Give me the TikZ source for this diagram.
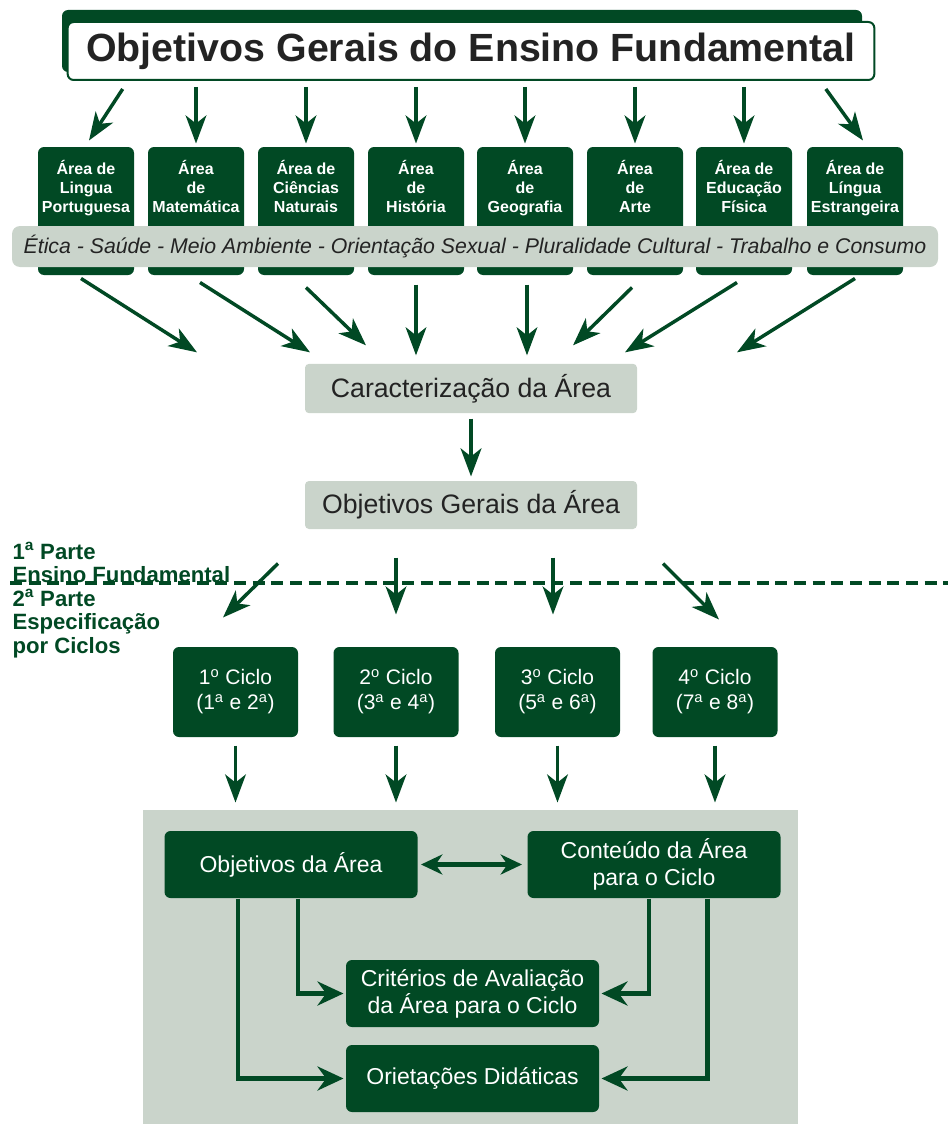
\documentclass[tikz,border=0pt]{standalone}
\usepackage{fontspec}
\setmainfont{Liberation Sans}
\usetikzlibrary{arrows.meta,calc}

\definecolor{pcnGreen}{RGB}{1,73,36}
\definecolor{pcnGrey}{RGB}{202,212,203}
\definecolor{pcnText}{RGB}{35,35,35}

\tikzset{every picture/.style={line width=0.75pt}}
\tikzset{
  titlebox/.style={draw=pcnGreen, line width=1.5pt, fill=white, rounded corners=4.5pt, minimum width=605pt, minimum height=43.5pt, inner sep=0pt, text=pcnText, font=\fontsize{29.5}{35}\selectfont\bfseries},
  areabox/.style={fill=pcnGreen, rounded corners=4.5pt, minimum width=72pt, minimum height=96pt, inner sep=0pt},
  areatext/.style={anchor=north, text=white, align=center, inner sep=0pt, font=\fontsize{12}{14.25}\selectfont\bfseries},
  temaband/.style={fill=pcnGrey, rounded corners=6pt, minimum width=694.5pt, minimum height=30.75pt, inner sep=0pt, text=pcnText, font=\fontsize{15.95}{18}\selectfont\itshape},
  greybox/.style={fill=pcnGrey, rounded corners=3pt, minimum width=249pt, minimum height=37pt, inner sep=0pt, text=pcnText, font=\fontsize{20}{24}\selectfont},
  ciclobox/.style={fill=pcnGreen, rounded corners=4.5pt, minimum width=93.75pt, minimum height=67.5pt, inner sep=0pt, text=white, align=center, font=\fontsize{15.75}{18.75}\selectfont},
  partebox/.style={fill=pcnGreen, rounded corners=4.5pt, minimum width=189.75pt, minimum height=50.25pt, inner sep=0pt, text=white, align=center, font=\fontsize{17.25}{20.25}\selectfont},
  partlabel/.style={text=pcnGreen, align=left, inner sep=0pt, font=\fontsize{16.6}{17.6}\selectfont\bfseries},
  arr/.style={draw=pcnGreen, line width=2.6pt, -{Stealth[length=21pt,width=15.5pt,inset=6pt]}},
  flow/.style={draw=pcnGreen, line width=3.4pt, -{Stealth[length=19.5pt,width=18pt,inset=6.5pt]}},
  flowboth/.style={draw=pcnGreen, line width=3.4pt, {Stealth[length=16pt,width=15pt,inset=5pt]}-{Stealth[length=16pt,width=15pt,inset=5pt]}}
}

\begin{document}
\begin{tikzpicture}[x=0.75pt,y=0.75pt,yscale=-1,xscale=1]
\useasboundingbox (0,0) rectangle (948,1124);

%Shape: Rectangle [title shadow]
\fill [pcnGreen, rounded corners=4.5pt] (62,10) rectangle (862,72);
% Text Node
\node [titlebox] (title) at (471,51) {Objetivos Gerais do Ensino Fundamental};

%Shape: Area boxes
\foreach \n/\x/\t in {1/86/{Área de\\Lingua\\Portuguesa}, 2/196/{Área\\de\\Matemática}, 3/306/{Área de\\Ciências\\Naturais}, 4/416/{Área\\de\\História}, 5/525/{Área\\de\\Geografia}, 6/635/{Área\\de\\Arte}, 7/744/{Área de\\Educação\\Física}, 8/855/{Área de\\Língua\\Estrangeira}}{
  \node [areabox] (a\n) at (\x,211) {};
  \node [areatext] (t\n) at (\x,160) {\t};
}

%Shape: Rounded band
\node [temaband] (temas) at (475,246.5) {Ética - Saúde - Meio Ambiente - Orientação Sexual - Pluralidade Cultural - Trabalho e Consumo};

%Arrows: title to areas
\draw [arr] ($(title.south west)+(56,8)$) -- ($(a1.north)+(3,-6)$);
\foreach \n in {2,...,7}
  \draw [arr, shorten <=4.5pt, shorten >=2.25pt] (title.south -| a\n.north) -- (a\n.north);
\draw [arr] ($(title.south east)+(-49.5,8)$) -- ($(a8.north)+(8,-6)$);

% Text Node
\node [greybox] (car) at (471,388.5) {Caracterização da Área};
\node [greybox, minimum height=36pt] (oga) at (471,505) {Objetivos Gerais da Área};

%Arrows: areas to caracterizacao
\foreach \n/\sx/\sy/\ex/\ey in {1/-5/3/-274/-11, 2/4/7/-161/-11, 3/0/12/-105/-18, 4/0/9/-55/-8, 5/2/9/56/-8, 6/-3/12/102/-18, 7/-7/7/154/-11, 8/0/3/266/-11}
  \draw [arr] ($(a\n.south)+(\sx,\sy)$) -- ($(car.north)+(\ex,\ey)$);
\draw [arr, line width=3.4pt, shorten <=3.75pt, shorten >=3pt] (car) -- (oga);

%Dashed line
\draw [pcnGreen, line width=2.6pt, dash pattern={on 9pt off 5pt}] (10,583) -- (948,583);

% Text Node
\node [partlabel, anchor=north west] (partes) at (12,542) {1\textsuperscript{a} Parte\\Ensino Fundamental\\2\textsuperscript{a} Parte\\Especificação\\por Ciclos};

%Shape: Ciclo boxes
\node [ciclobox] (c1) at (235.5,692) {1\textsuperscript{o} Ciclo\\(1\textsuperscript{a} e 2\textsuperscript{a})};
\node [ciclobox] (c2) at (396,692) {2\textsuperscript{o} Ciclo\\(3\textsuperscript{a} e 4\textsuperscript{a})};
\node [ciclobox] (c3) at (557.5,692) {3\textsuperscript{o} Ciclo\\(5\textsuperscript{a} e 6\textsuperscript{a})};
\node [ciclobox] (c4) at (715,692) {4\textsuperscript{o} Ciclo\\(7\textsuperscript{a} e 8\textsuperscript{a})};

%Arrows: objetivos gerais to ciclos
\draw [arr] ($(oga.south)+(-193,34)$) -- ($(c1.north)+(-12.5,-29)$);
\draw [arr] ($(oga.south)+(-75,28)$) -- ($(c2.north)+(0,-32)$);
\draw [arr] ($(oga.south)+(82,28)$) -- ($(c3.north)+(-4.5,-32)$);
\draw [arr] ($(oga.south)+(192,34)$) -- ($(c4.north)+(4,-27)$);

%Shape: Panel
\fill [pcnGrey] (143,810) rectangle (798,1124);

\foreach \n in {1,...,4}
  \draw [arr, shorten <=6pt] (c\n.south) -- ($(c\n.south)+(0,65)$);

%Shape: Panel boxes
\node [partebox] (obja) at (291,864.5) {Objetivos da Área};
\node [partebox] (cont) at (654,864.5) {Conteúdo da Área\\para o Ciclo};
\node [partebox] (crit) at (472.5,993.5) {Critérios de Avaliação\\da Área para o Ciclo};
\node [partebox] (orie) at (472.5,1078.5) {Orietações Didáticas};

%Connectors
\draw [flowboth] ($(obja.east)+(3,0)$) -- ($(cont.west)+(-5,0)$);
\draw [flow] ($(obja.south)+(7,0)$) |- ($(crit.west)+(-2,0)$);
\draw [flow] ($(obja.south)+(-53,0)$) |- ($(orie.west)+(-2,0)$);
\draw [flow] ($(cont.south)+(-5,0)$) |- ($(crit.east)+(2,0)$);
\draw [flow] ($(cont.south)+(53.5,0)$) |- ($(orie.east)+(2,0)$);
\end{tikzpicture}
\end{document}
